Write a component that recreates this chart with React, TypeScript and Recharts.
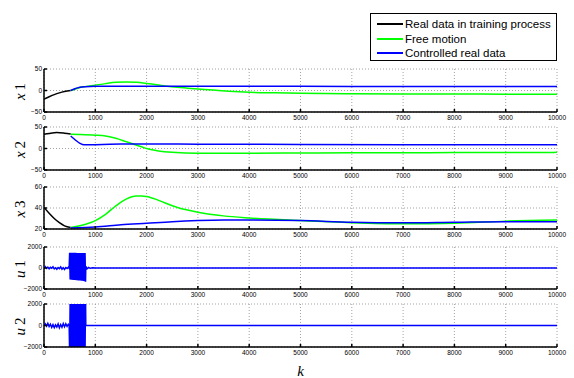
import React from "react";
import { LineChart, Line, XAxis, YAxis, CartesianGrid } from "recharts";

type Pt = [number, number];

const kTicks = [0, 1000, 2000, 3000, 4000, 5000, 6000, 7000, 8000, 9000, 10000];
const xStateTicks = [-50, 0, 50];
const x3Ticks = [20, 40, 60];
const uTicks = [-2000, 0, 2000];

const seriesNames = ["Real data in training process", "Free motion", "Controlled real data"];
const seriesColors = ["#000000", "#00ff00", "#0000ff"];

// state x1
const x1Train: Pt[] = [[0, -20], [100, -14.5], [200, -9.5], [300, -5.5], [400, -2.5], [520, 0]];
const x1Free: Pt[] = [
  [520, 0], [600, 3], [700, 7], [800, 9], [1000, 12.5], [1200, 16], [1400, 19], [1600, 20],
  [1800, 19], [2000, 16.5], [2200, 13.5], [2400, 10], [2600, 7.5], [2800, 5.5], [3000, 3.5],
  [3300, 1], [3600, -1.5], [4000, -4], [4500, -5.5], [5000, -6.5], [6000, -7.5], [7000, -8],
  [8000, -8], [9000, -8.5], [10000, -8.5],
];
const x1Ctrl: Pt[] = [
  [520, 0], [600, 4], [700, 7.5], [800, 9], [1000, 10], [2000, 10], [4000, 10], [6000, 9.5],
  [8000, 9.5], [10000, 9.5],
];

// state x2
const x2Train: Pt[] = [[0, 33], [100, 35], [250, 37], [400, 35.5], [520, 33.5]];
const x2Free: Pt[] = [
  [520, 33], [700, 32.5], [1000, 31], [1200, 29], [1400, 24], [1600, 16], [1750, 10], [1900, 4],
  [2000, 0], [2200, -5], [2500, -9], [3000, -11], [4000, -11], [5000, -10.5], [6000, -10],
  [7000, -10], [8000, -9.5], [9000, -9.5], [10000, -9],
];
const x2Ctrl: Pt[] = [
  [520, 29], [600, 21], [700, 12], [780, 8.5], [900, 8.5], [1000, 9], [1500, 10.5], [2000, 10.5],
  [3000, 10], [5000, 9.5], [7000, 9], [10000, 8.5],
];

// state x3
const x3Train: Pt[] = [[0, 40.5], [100, 35], [200, 30], [300, 26], [400, 23], [520, 21.5]];
const x3Free: Pt[] = [
  [520, 21.5], [700, 23], [900, 26], [1000, 28], [1200, 34], [1400, 42], [1600, 48.5],
  [1800, 51.5], [1900, 51.5], [2000, 51], [2200, 48], [2400, 44], [2600, 40.5], [2800, 38],
  [3000, 36], [3500, 32.5], [4000, 30.5], [5000, 28], [6000, 26], [7000, 25], [8000, 25.5],
  [9000, 27.5], [10000, 28.5],
];
const x3Ctrl: Pt[] = [
  [520, 21], [800, 21.5], [1000, 22], [1500, 24], [2000, 25.5], [2500, 27], [3000, 28],
  [3500, 28.5], [4000, 28.5], [5000, 28], [6000, 26.5], [7000, 26], [8000, 26.5], [9000, 27],
  [10000, 27],
];

// control input u1
const u1Lead: Pt[] = [
  [0, 0], [25, 120], [50, -40], [75, 90], [100, -80], [125, 60], [150, -30], [175, 110],
  [200, -90], [225, 20], [250, -120], [275, 40], [300, -60], [325, 100], [350, -110], [375, 30],
  [400, -130], [425, 50], [450, -40], [475, 80], [490, -20],
];
const u1Burst: Pt[] = [
  [500, 1450], [510, -1100], [520, 1450], [530, -1110], [540, 1445], [550, -1120], [560, 1445],
  [570, -1130], [580, 1440], [590, -1140], [600, 1440], [610, -1150], [620, 1440], [630, -1160],
  [640, 1435], [650, -1170], [660, 1435], [670, -1180], [680, 1435], [690, -1190], [700, 1430],
  [710, -1200], [720, 1430], [730, -1210], [740, 1430], [750, -1220], [760, 1425], [770, -1240],
  [780, 1425], [790, -1260], [800, 1420], [810, -1300],
];
const u1Tail: Pt[] = [
  [815, 150], [840, -80], [870, 60], [900, -30], [950, 20], [1000, -10], [1200, 5], [1500, 0],
  [3000, 0], [6000, 0], [10000, 0],
];

// control input u2
const u2Lead: Pt[] = [
  [0, 0], [25, 150], [50, -60], [75, 200], [100, -90], [125, 120], [150, -180], [175, 80],
  [200, -200], [225, 60], [250, -150], [275, 140], [300, -220], [325, 90], [350, -160],
  [375, 180], [400, -120], [425, 160], [450, -80], [475, 120], [490, 40],
];
const u2Burst: Pt[] = [
  [500, -2600], [510, 2600], [520, -2600], [530, 2600], [540, -2600], [550, 2600], [560, -2600],
  [570, 2600], [580, -2600], [590, 2600], [600, -2600], [610, 2600], [620, -2600], [630, 2600],
  [640, -2600], [650, 2600], [660, -2600], [670, 2600], [680, -2600], [690, 2600], [700, -2600],
  [710, 2600], [720, -2600], [730, 2600], [740, -2600], [750, 2600], [760, -2600], [770, 2600],
  [780, -2600], [790, 2600], [800, -2600], [810, 2600],
];
const u2Tail: Pt[] = [[815, 0], [1000, 0], [5000, 0], [10000, 0]];

const W = 574;
const LEFT = 44;
const RIGHT_PAD = 17;
const PAD_T = 4;
const AXIS_H = 16;

const tickFont = { fontSize: 6.5, fontFamily: "Liberation Sans, Arial, sans-serif", fill: "#000" };
const axisStroke = { stroke: "#000", strokeWidth: 1.5 };

const toRows = (pts: Pt[]) => pts.map(([k, v]) => ({ k, v }));
const fmt = (v: number) => (v < 0 ? `\u2212${-v}` : `${v}`);

function AxisTitle({ viewBox, symbol, index }: any) {
  const cy = viewBox.y + viewBox.height / 2 + 1;
  return (
    <text
      x={25}
      y={cy}
      transform={`rotate(-90 25 ${cy})`}
      textAnchor="middle"
      fontFamily="Liberation Serif, Times New Roman, serif"
      fontSize={15}
      fill="#000"
    >
      <tspan fontStyle="italic">{symbol}</tspan>
      <tspan dx={3}>{index}</tspan>
    </text>
  );
}

interface LineSpec {
  pts: Pt[];
  color: string;
  curve: "monotone" | "linear";
}

interface PanelProps {
  top: number;
  plotHeight: number;
  domain: [number, number];
  ticks: number[];
  symbol: string;
  index: string;
  lines: LineSpec[];
}

function Panel({ top, plotHeight, domain, ticks, symbol, index, lines }: PanelProps) {
  return (
    <div style={{ position: "absolute", left: 0, top: top - PAD_T }}>
      <LineChart
        width={W}
        height={plotHeight + PAD_T + AXIS_H}
        margin={{ top: PAD_T, right: RIGHT_PAD, bottom: 0, left: 0 }}
      >
        <CartesianGrid stroke="#8c8c8c" strokeDasharray="1 2" strokeWidth={0.8} />
        <XAxis
          dataKey="k"
          type="number"
          domain={[0, 10000]}
          ticks={kTicks}
          interval={0}
          allowDataOverflow
          height={AXIS_H}
          tickSize={-3}
          tickMargin={6}
          axisLine={axisStroke}
          tickLine={axisStroke}
          tick={tickFont}
        />
        <XAxis
          xAxisId="top"
          orientation="top"
          dataKey="k"
          type="number"
          domain={[0, 10000]}
          ticks={kTicks}
          interval={0}
          allowDataOverflow
          height={0}
          tickSize={-3}
          tick={false}
          axisLine={axisStroke}
          tickLine={axisStroke}
        />
        <YAxis
          type="number"
          domain={domain}
          ticks={ticks}
          interval={0}
          allowDataOverflow
          width={LEFT}
          tickSize={-3}
          tickMargin={5}
          tickFormatter={fmt}
          axisLine={axisStroke}
          tickLine={axisStroke}
          tick={tickFont}
          label={<AxisTitle symbol={symbol} index={index} />}
        />
        <YAxis
          yAxisId="right"
          orientation="right"
          type="number"
          domain={domain}
          ticks={ticks}
          interval={0}
          allowDataOverflow
          width={0}
          tickSize={-3}
          tick={false}
          axisLine={axisStroke}
          tickLine={axisStroke}
        />
        {lines.map((l, i) => (
          <Line
            key={i}
            data={toRows(l.pts)}
            dataKey="v"
            type={l.curve}
            stroke={l.color}
            strokeWidth={1.5}
            dot={false}
            activeDot={false}
            isAnimationActive={false}
          />
        ))}
      </LineChart>
    </div>
  );
}

const [cTrain, cFree, cCtrl] = seriesColors;

export default function App() {
  return (
    <div
      style={{
        position: "absolute",
        left: 0,
        top: 0,
        width: W,
        height: 378,
        background: "#fff",
        overflow: "hidden",
      }}
    >
      <Panel
        top={69}
        plotHeight={43}
        domain={[-50, 50]}
        ticks={xStateTicks}
        symbol="x"
        index="1"
        lines={[
          { pts: x1Train, color: cTrain, curve: "monotone" },
          { pts: x1Free, color: cFree, curve: "monotone" },
          { pts: x1Ctrl, color: cCtrl, curve: "monotone" },
        ]}
      />
      <Panel
        top={127}
        plotHeight={43}
        domain={[-50, 50]}
        ticks={xStateTicks}
        symbol="x"
        index="2"
        lines={[
          { pts: x2Train, color: cTrain, curve: "monotone" },
          { pts: x2Free, color: cFree, curve: "monotone" },
          { pts: x2Ctrl, color: cCtrl, curve: "monotone" },
        ]}
      />
      <Panel
        top={187}
        plotHeight={42}
        domain={[20, 60]}
        ticks={x3Ticks}
        symbol="x"
        index="3"
        lines={[
          { pts: x3Train, color: cTrain, curve: "monotone" },
          { pts: x3Free, color: cFree, curve: "monotone" },
          { pts: x3Ctrl, color: cCtrl, curve: "monotone" },
        ]}
      />
      <Panel
        top={247}
        plotHeight={42}
        domain={[-2000, 2000]}
        ticks={uTicks}
        symbol="u"
        index="1"
        lines={[{ pts: [...u1Lead, ...u1Burst, ...u1Tail], color: cCtrl, curve: "linear" }]}
      />
      <Panel
        top={304}
        plotHeight={43}
        domain={[-2000, 2000]}
        ticks={uTicks}
        symbol="u"
        index="2"
        lines={[{ pts: [...u2Lead, ...u2Burst, ...u2Tail], color: cCtrl, curve: "linear" }]}
      />

      {/* axis title under the last panel */}
      <div
        style={{
          position: "absolute",
          left: LEFT,
          width: W - LEFT - RIGHT_PAD,
          top: 364,
          textAlign: "center",
          fontFamily: "Liberation Serif, Times New Roman, serif",
          fontStyle: "italic",
          fontSize: 15,
          lineHeight: "15px",
        }}
      >
        k
      </div>

      {/* legend box */}
      <div
        style={{
          position: "absolute",
          left: 370,
          top: 13,
          width: 187,
          height: 48,
          boxSizing: "border-box",
          border: "1px solid #000",
          background: "#fff",
          paddingTop: 3,
          fontFamily: "Liberation Sans, Arial, sans-serif",
          fontSize: 11.5,
        }}
      >
        {seriesNames.map((name, i) => (
          <div key={name} style={{ display: "flex", alignItems: "center", height: 14.5 }}>
            <div style={{ marginLeft: 6, width: 26, height: 2, background: seriesColors[i] }} />
            <span style={{ marginLeft: 2, lineHeight: "14px" }}>{name}</span>
          </div>
        ))}
      </div>
    </div>
  );
}
